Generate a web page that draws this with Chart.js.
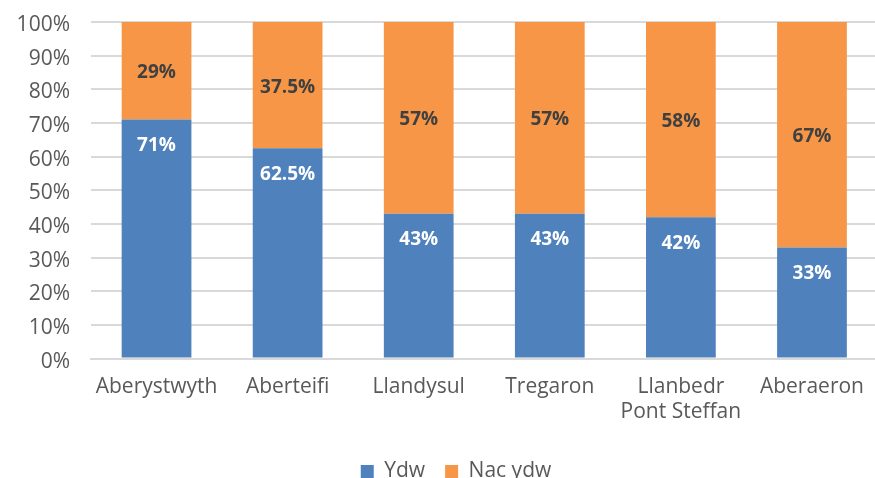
<!DOCTYPE html>
<html><head><meta charset="utf-8">
<script src="https://cdn.jsdelivr.net/npm/chart.js@4/dist/chart.umd.min.js"></script>
<style>
html,body{margin:0;padding:0;overflow:hidden;background:#fff;width:875px;height:478px}
#wrap{position:relative;width:880px;height:492px}
</style></head><body>
<div id="wrap"><canvas id="c"></canvas></div>
<script>
const categories = ["Aberystwyth","Aberteifi","Llandysul","Tregaron",["Llanbedr","Pont Steffan"],"Aberaeron"];
const ydw = [71, 62.5, 43, 43, 42, 33];
const nacYdw = [29, 37.5, 57, 57, 58, 67];
const seriesNames = ["Ydw","Nac ydw"];
const FONT = "'Open Sans', sans-serif";

const labelPlugin = {
  id:'barLabels',
  afterInit(chart){
    const lg = chart.legend;
    if(lg){
      const orig = lg.draw;
      lg.draw = function(){ const c=this.ctx; c.save(); c.translate(16,0); orig.apply(this,arguments); c.restore(); };
    }
  },
  afterDatasetsDraw(chart){
    const ctx = chart.ctx;
    ctx.save();
    ctx.font = "bold 19px " + FONT;
    ctx.textAlign = 'center';
    ctx.textBaseline = 'middle';
    chart.data.datasets.forEach((ds,di)=>{
      const meta = chart.getDatasetMeta(di);
      meta.data.forEach((bar,i)=>{
        const v = ds.data[i];
        let y;
        if(di===0){ ctx.fillStyle = '#ffffff'; y = bar.y + 26; }
        else { ctx.fillStyle = '#404040'; y = (bar.y + bar.base)/2 + 2; }
        ctx.fillText(v + '%', bar.x, y);
      });
    });
    ctx.restore();
  }
};

new Chart(document.getElementById('c'),{
  type:'bar',
  data:{
    labels:categories,
    datasets:[
      {label:seriesNames[0],data:ydw,backgroundColor:'#4f81bd',barPercentage:0.532,categoryPercentage:1},
      {label:seriesNames[1],data:nacYdw,backgroundColor:'#f79646',barPercentage:0.532,categoryPercentage:1}
    ]
  },
  options:{
    responsive:true,maintainAspectRatio:false,animation:false,
    layout:{padding:0},
    plugins:{
      legend:{position:'bottom',labels:{font:{family:FONT,size:21},color:'#595959',boxWidth:13,boxHeight:13,padding:20}},
      tooltip:{enabled:false}
    },
    scales:{
      x:{stacked:true,
        grid:{display:false,drawTicks:false},
        border:{display:true,color:'#d9d9d9',width:2},
        ticks:{font:{family:FONT,size:21},color:'#595959',padding:16,maxRotation:0,autoSkip:false}
      },
      y:{stacked:true,min:0,max:100,
        afterFit(s){ s.width = 91; s.paddingTop = 22; s.paddingBottom = 12; },
        grid:{color:'#d9d9d9',lineWidth:2,drawTicks:false},
        border:{display:false},
        ticks:{stepSize:10,font:{family:FONT,size:21},color:'#595959',padding:21,labelOffset:3,callback:v=>v+'%'}
      }
    }
  },
  plugins:[labelPlugin]
});
</script></body></html>
